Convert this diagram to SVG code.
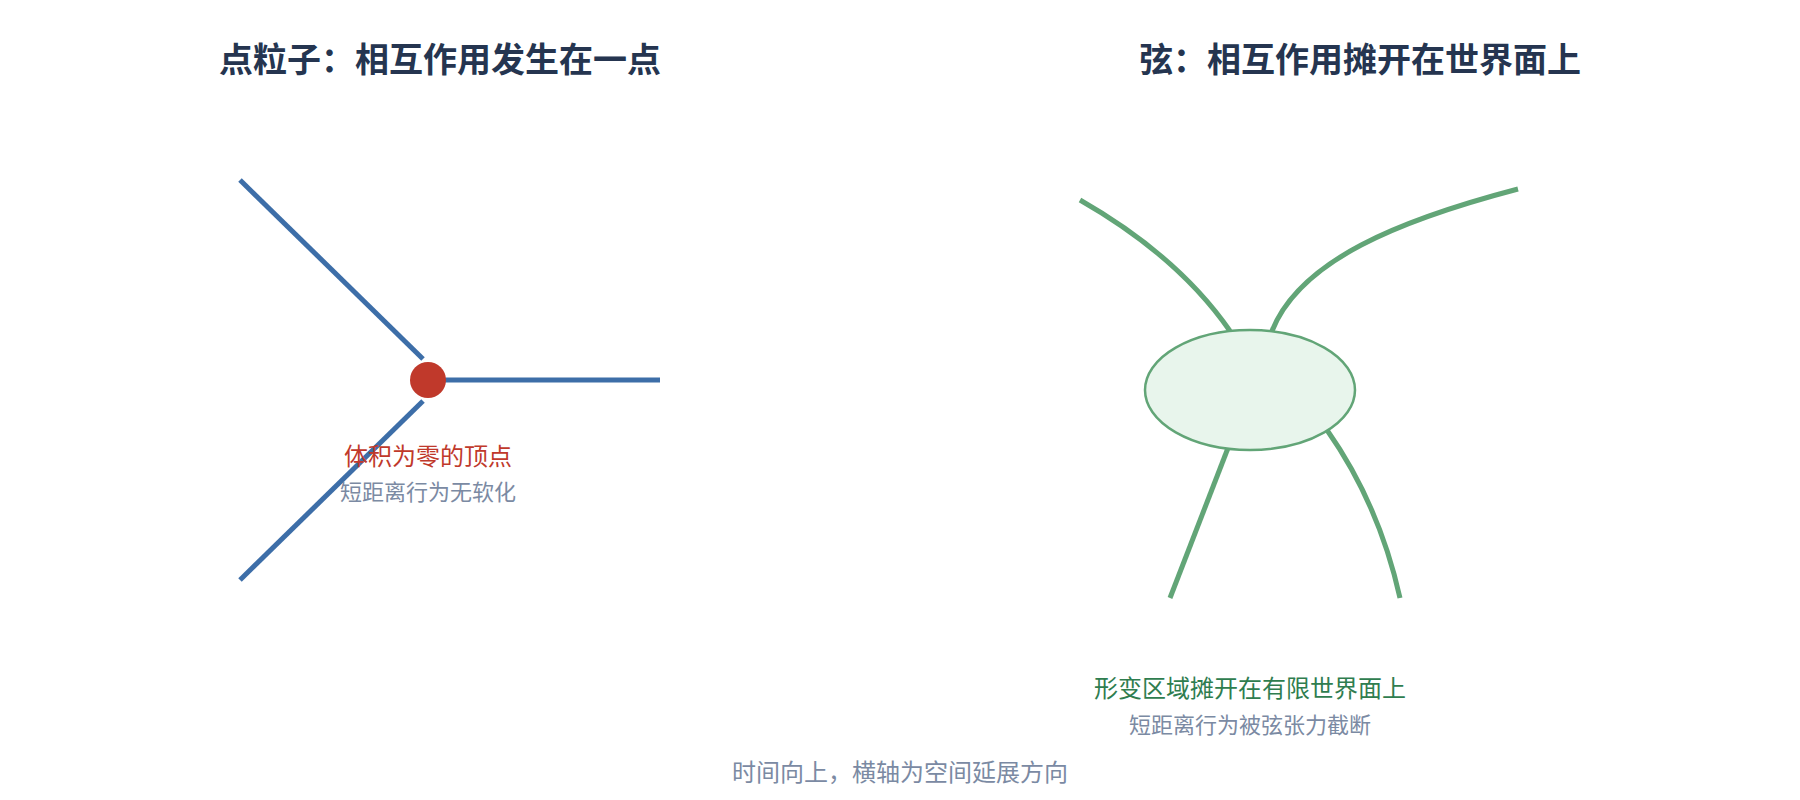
<svg xmlns="http://www.w3.org/2000/svg" width="1800" height="800" viewBox="0 0 1800 800">
<style>
text{font-family:"Noto Sans CJK SC","Noto Sans",sans-serif;text-anchor:middle}
.title{font-size:34px;font-weight:700;fill:#253550}
.lbl{font-size:24px}
.sub{font-size:22px;fill:#7b8aa3}
.foot{font-size:24px;fill:#7b8aa3}
.wl{stroke:#3d6ea8;stroke-width:5;fill:none}
.ws{stroke:#62a577;stroke-width:5;fill:none}
</style>
<rect width="1800" height="800" fill="#ffffff"/>
<g id="titles">
<text class="title" x="440" y="72">点粒子：相互作用发生在一点</text>
<text class="title" x="1360" y="72">弦：相互作用摊开在世界面上</text>
</g>
<g id="connectors">
<line class="wl" x1="240" y1="180" x2="423" y2="359"/>
<line class="wl" x1="423" y1="401" x2="240" y2="580"/>
<line class="wl" x1="428" y1="380" x2="660" y2="380"/>
<path class="ws" d="M1080,200 Q1178,256 1230,331"/>
<path class="ws" d="M1518,189 C1400,220 1300,260 1272,331"/>
<path class="ws" d="M1228,448 L1170,598"/>
<path class="ws" d="M1327,430 Q1379,504 1400,598"/>
</g>
<g id="vertex">
<circle cx="428" cy="380" r="18" fill="#c0392b"/>
<text class="lbl" x="428" y="465" fill="#c0392b">体积为零的顶点</text>
<text class="sub" x="428" y="500">短距离行为无软化</text>
</g>
<g id="region">
<ellipse cx="1250" cy="390" rx="105" ry="60" fill="#e8f5ec" stroke="#62a577" stroke-width="2.5"/>
<text class="lbl" x="1250" y="697" fill="#2f7d4f">形变区域摊开在有限世界面上</text>
<text class="sub" x="1250" y="733">短距离行为被弦张力截断</text>
</g>
<g id="footer">
<text class="foot" x="900" y="781">时间向上，横轴为空间延展方向</text>
</g>
</svg>
